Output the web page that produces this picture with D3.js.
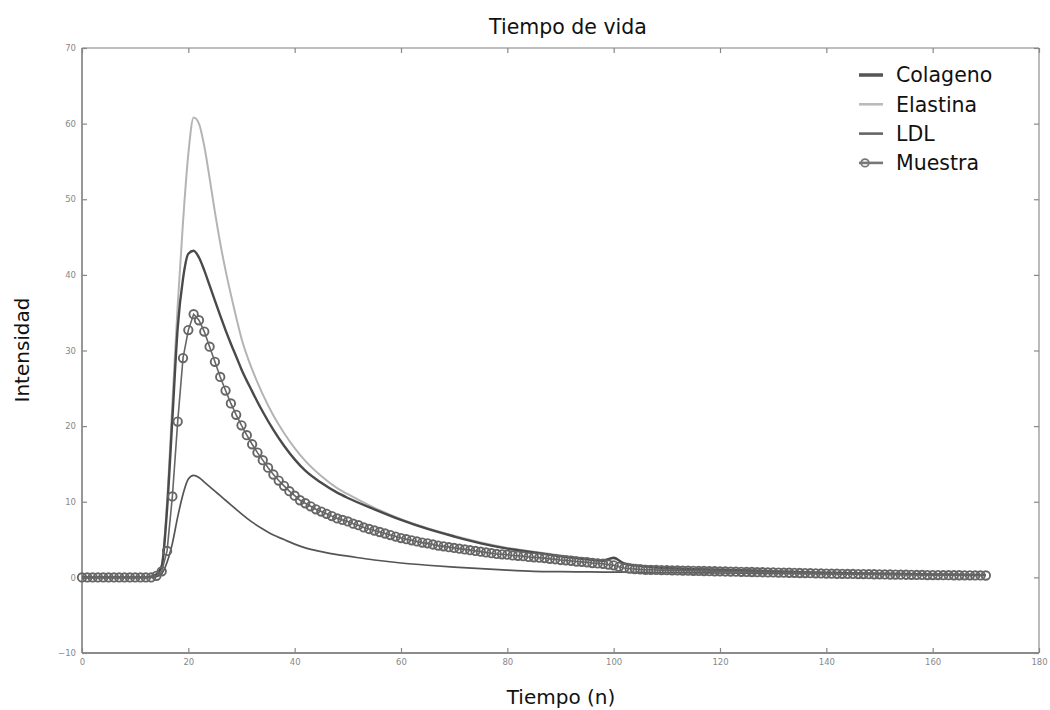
<!DOCTYPE html>
<html><head><meta charset="utf-8">
<script src="https://cdn.jsdelivr.net/npm/d3@7/dist/d3.min.js"></script>
<style>body{margin:0;background:#fff;} svg{display:block;font-family:"DejaVu Sans",Verdana,sans-serif;}</style>
</head><body><svg id="c" width="1050" height="710"></svg>
<script>
const xTicks = [0,20,40,60,80,100,120,140,160,180];
const yTicks = [-10,0,10,20,30,40,50,60,70];
const seriesNames = ["Colageno","Elastina","LDL","Muestra"];

const xLine = [0,5,10,12,13,14,15,16,17,18,19,20,21,22,23,24,25,26,27,28,29,30,32,34,36,38,40,42,45,48,50,55,60,65,70,75,80,85,90,95,98,100,102,105,110,120,130,140,150,160,170];
const colageno = [0,0,0,0,0.1,0.4,1.5,9,21,33,39.5,42.8,43.2,42.3,40.6,38.6,36.6,34.6,32.7,30.9,29.2,27.5,24.6,21.9,19.5,17.4,15.6,14.1,12.5,11.2,10.5,9,7.6,6.4,5.4,4.5,3.8,3.3,2.8,2.4,2.2,2.6,1.8,1.5,1.2,1.0,0.8,0.6,0.5,0.4,0.3];
const elastina = [0,0,0,0,0.1,0.4,1.6,10,23,36,47,56,60.8,60,57,52.8,48.3,44.2,40.6,37.4,34.4,31.6,27.5,24.2,21.4,19.1,17.1,15.4,13.4,11.8,11.0,9.2,7.7,6.5,5.5,4.6,3.9,3.4,2.9,2.5,2.3,2.5,1.9,1.6,1.3,1.05,0.85,0.65,0.5,0.4,0.3];
const ldl = [0,0,0,0,0,0.1,0.5,2,4.5,8,11,13,13.5,13.2,12.6,12.0,11.4,10.8,10.2,9.6,9.0,8.4,7.3,6.4,5.6,5.0,4.4,3.9,3.4,3.0,2.8,2.3,1.9,1.6,1.35,1.15,0.95,0.8,0.75,0.72,0.7,0.7,0.68,0.66,0.62,0.58,0.52,0.46,0.4,0.35,0.3];

const muestra = [
 0,0,0,0,0,0,0,0,0,0,          // 0-9
 0,0,0,0,0.2,0.8,3.5,10.7,20.6,29,  // 10-19
 32.7,34.8,34,32.5,30.5,28.5,26.5,24.7,23,21.5, // 20-29
 20.1,18.8,17.6,16.5,15.5,14.5,13.6,12.8,12.1,11.4, // 30-39
 10.8,10.2,9.8,9.4,9.0,8.7,8.4,8.1,7.8,7.6, // 40-49
 7.4,7.1,6.9,6.6,6.4,6.2,6.0,5.8,5.6,5.4, // 50-59
 5.2,5.05,4.9,4.75,4.6,4.5,4.35,4.2,4.1,4.0, // 60-69
 3.9,3.8,3.7,3.6,3.5,3.4,3.3,3.2,3.1,3.05, // 70-79
 3.0,2.9,2.85,2.8,2.7,2.65,2.6,2.55,2.45,2.4, // 80-89
 2.3,2.25,2.2,2.1,2.05,2.0,1.9,1.85,1.8,1.7, // 90-99
 1.6,1.4,1.25,1.15,1.1,1.05,1.0,1.0,0.98,0.96, // 100-109
 0.95,0.93,0.92,0.9,0.88,0.87,0.85,0.84,0.82,0.81, // 110-119
 0.8,0.78,0.77,0.75,0.74,0.72,0.71,0.69,0.68,0.66, // 120-129
 0.65,0.64,0.62,0.61,0.6,0.58,0.57,0.55,0.54,0.52, // 130-139
 0.5,0.49,0.48,0.47,0.46,0.45,0.44,0.43,0.42,0.41, // 140-149
 0.4,0.39,0.38,0.37,0.36,0.35,0.34,0.33,0.32,0.31, // 150-159
 0.3,0.3,0.29,0.29,0.28,0.28,0.27,0.27,0.26,0.26, // 160-169
 0.25 // 170
];
const xMuestra = d3.range(0, muestra.length);

const svg = d3.select("#c");
const L = 82, R = 1039, T = 48, B = 653;
const x = d3.scaleLinear().domain([0,180]).range([L,R]);
const y = d3.scaleLinear().domain([-10,70]).range([B,T]);

// frame
svg.append("line").attr("x1",L).attr("x2",R).attr("y1",T).attr("y2",T).attr("stroke","#aaa").attr("stroke-width",1.6);
svg.append("line").attr("x1",R).attr("x2",R).attr("y1",T).attr("y2",B).attr("stroke","#aaa").attr("stroke-width",1.6);
svg.append("line").attr("x1",L).attr("x2",R).attr("y1",B).attr("y2",B).attr("stroke","#8c8c8c").attr("stroke-width",1.8);
svg.append("line").attr("x1",L).attr("x2",L).attr("y1",T).attr("y2",B).attr("stroke","#8c8c8c").attr("stroke-width",1.8);

const tickStyle = g => {
  g.select(".domain").remove();
  g.selectAll(".tick line").attr("stroke","#888").attr("stroke-width",1.2);
  g.selectAll(".tick text").attr("fill","#888").attr("font-size",8.5).attr("font-family","DejaVu Sans, sans-serif");
};
svg.append("g").attr("transform",`translate(0,${B})`)
  .call(d3.axisBottom(x).tickValues(xTicks).tickSize(-5).tickPadding(6)).call(tickStyle);
svg.append("g").attr("transform",`translate(0,${T})`)
  .call(d3.axisTop(x).tickValues(xTicks).tickSize(-5).tickFormat("")).call(tickStyle);
svg.append("g").attr("transform",`translate(${L},0)`)
  .call(d3.axisLeft(y).tickValues(yTicks).tickSize(-5).tickPadding(6)).call(tickStyle);
svg.append("g").attr("transform",`translate(${R},0)`)
  .call(d3.axisRight(y).tickValues(yTicks).tickSize(-5).tickFormat("")).call(tickStyle);

const line = d3.line().x(d=>x(d[0])).y(d=>y(d[1])).curve(d3.curveMonotoneX);
const styles = {
  Colageno:{stroke:"#4a4a4a", w:2.4},
  Elastina:{stroke:"#b4b4b4", w:2},
  LDL:{stroke:"#555", w:1.7},
  Muestra:{stroke:"#666", w:1.6}
};
const plot = svg.append("g");
plot.append("path").datum(d3.zip(xLine, elastina)).attr("d",line)
  .attr("fill","none").attr("stroke",styles.Elastina.stroke).attr("stroke-width",styles.Elastina.w);
plot.append("path").datum(d3.zip(xLine, colageno)).attr("d",line)
  .attr("fill","none").attr("stroke",styles.Colageno.stroke).attr("stroke-width",styles.Colageno.w);
plot.append("path").datum(d3.zip(xLine, ldl)).attr("d",line)
  .attr("fill","none").attr("stroke",styles.LDL.stroke).attr("stroke-width",styles.LDL.w);
const mData = d3.zip(xMuestra, muestra);
plot.append("path").datum(mData).attr("d",d3.line().x(d=>x(d[0])).y(d=>y(d[1])))
  .attr("fill","none").attr("stroke",styles.Muestra.stroke).attr("stroke-width",styles.Muestra.w);
plot.selectAll("circle.m").data(mData).enter().append("circle").attr("class","m")
  .attr("cx",d=>x(d[0])).attr("cy",d=>y(d[1])).attr("r",4.2)
  .attr("fill","none").attr("stroke",styles.Muestra.stroke).attr("stroke-width",1.9);

// legend
const lg = svg.append("g");
const lgY0 = 75, lgDY = 29.3;
const lgStroke = {Colageno:"#555", Elastina:"#bbb", LDL:"#666", Muestra:"#777"};
seriesNames.forEach((n,i)=>{
  const yy = lgY0 + i*lgDY;
  lg.append("line").attr("x1",859).attr("x2",883).attr("y1",yy).attr("y2",yy)
    .attr("stroke",lgStroke[n]).attr("stroke-width",n==="Colageno"?3.5:2.6);
  if(n==="Muestra") lg.append("circle").attr("cx",865).attr("cy",yy).attr("r",3.8)
    .attr("fill","none").attr("stroke",lgStroke[n]).attr("stroke-width",1.8);
  lg.append("text").attr("x",896).attr("y",yy).attr("dy","0.36em")
    .attr("font-size",20.5).attr("fill","#111").text(n);
});

// titles
svg.append("text").attr("x",568).attr("y",34).attr("text-anchor","middle")
  .attr("font-size",20.5).attr("fill","#111").text("Tiempo de vida");
svg.append("text").attr("x",561).attr("y",704).attr("text-anchor","middle")
  .attr("font-size",20).attr("fill","#111").text("Tiempo (n)");
svg.append("text").attr("transform","translate(29,350) rotate(-90)").attr("text-anchor","middle")
  .attr("font-size",20).attr("fill","#111").text("Intensidad");
</script></body></html>
